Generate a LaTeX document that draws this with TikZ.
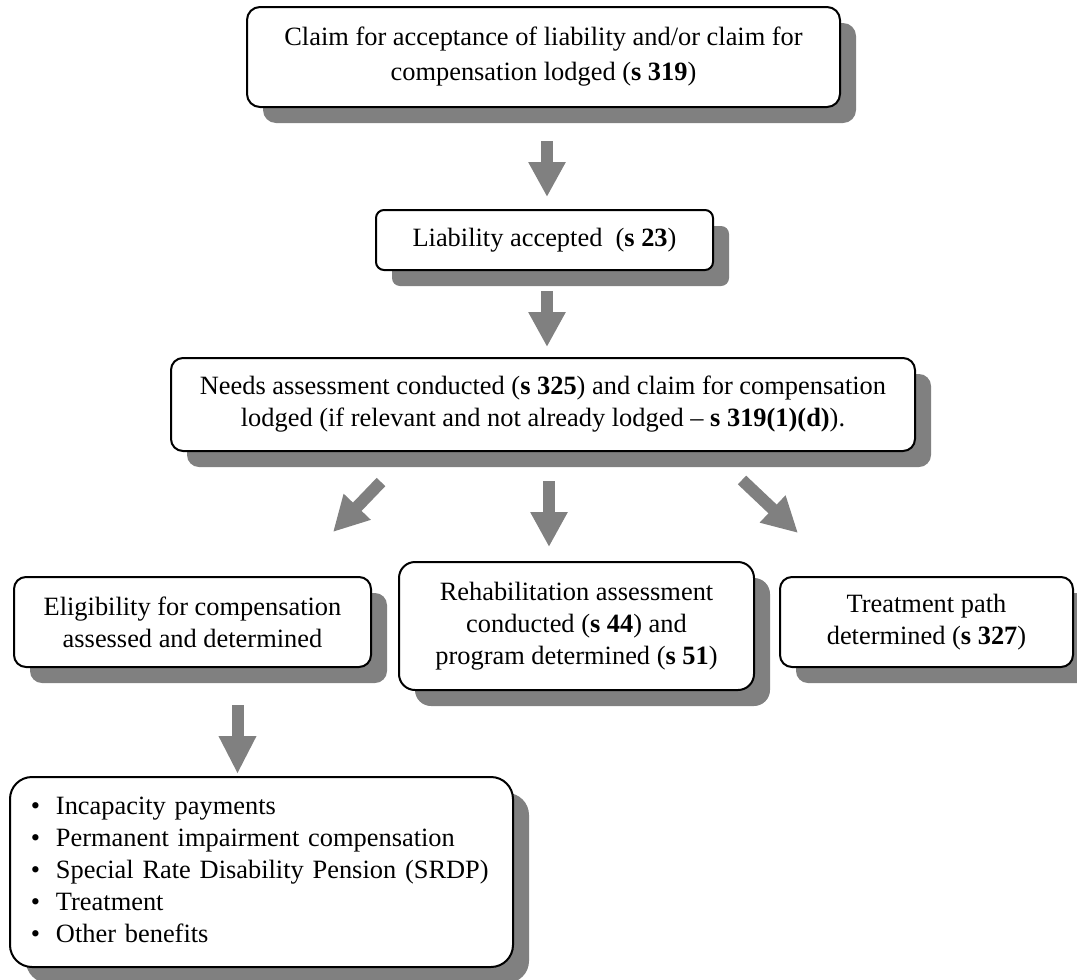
\documentclass[tikz,border=0pt]{standalone}
\usepackage{fontspec}
\setmainfont{Liberation Serif}
\usetikzlibrary{arrows.meta,shadows}
\definecolor{shade}{HTML}{808080}
\newcommand{\bitem}{\makebox[12.5pt][l]{•}}
\tikzset{
  box/.style={draw=black, line width=1pt, fill=white, rounded corners=#1,
    align=center, inner sep=0pt, font=\fontsize{13.2}{16}\selectfont,
    drop shadow={shadow xshift=8pt, shadow yshift=-8pt, fill=shade, opacity=1}},
  flow/.style={draw=shade, line width=6pt,
    -{Triangle[width=17.5pt,length=#1]}},
  flow/.default=17.5pt
}
\begin{document}
\begin{tikzpicture}[x=0.5pt,y=-0.5pt]
\useasboundingbox (0,0) rectangle (1077,980);

% process boxes
\node[box=6.5pt, minimum width=296.5pt, minimum height=50pt, font=\fontsize{13.2}{17.5}\selectfont] (claim) at (543.5,57)
  {Claim for acceptance of liability and/or claim for\\compensation lodged (\textbf{s 319})};
\node[box=4pt, minimum width=168.5pt, minimum height=30pt] (liab) at (544.5,240)
  {Liability accepted\ \ (\textbf{s 23})};
\node[box=6pt, minimum width=372pt, minimum height=46.5pt] (needs) at (543,404.5)
  {Needs assessment conducted (\textbf{s 325}) and claim for compensation\\lodged (if relevant and not already lodged – \textbf{s 319(1)(d)}).};
\node[box=6pt, minimum width=178.5pt, minimum height=45pt] (elig) at (192.5,622)
  {Eligibility for compensation\\assessed and determined};
\node[box=8pt, minimum width=177.5pt, minimum height=64pt] (rehab) at (576.5,626)
  {Rehabilitation assessment\\conducted (\textbf{s 44}) and\\program determined (\textbf{s 51})};
\node[box=6pt, minimum width=146.5pt, minimum height=45pt] (treat) at (926.5,622)
  {Treatment path\\determined (\textbf{s 327})};
\node[box=11pt, text width=230.5pt, inner xsep=10.5pt, minimum height=95pt, align=left] (benefits) at (261.5,872)
  {\begin{tabular}{@{}l@{}}
   \bitem Incapacity payments\\
   \bitem Permanent impairment compensation\\
   \bitem Special Rate Disability Pension (SRDP)\\
   \bitem Treatment\\
   \bitem Other benefits
   \end{tabular}};

% arrow end points
\coordinate (a1s) at (547,141);  \coordinate (a1e) at (547,197);
\coordinate (a2s) at (547,291);  \coordinate (a2e) at (547,347);
\coordinate (aLs) at (381,482);  \coordinate (aLe) at (333,532);
\coordinate (aMs) at (549,481);  \coordinate (aMe) at (549,547);
\coordinate (aRs) at (742,480);  \coordinate (aRe) at (798,533);
\coordinate (a4s) at (237.5,705); \coordinate (a4e) at (237.5,774);

% block arrows
\draw[flow] (a1s) -- (a1e);
\draw[flow] (a2s) -- (a2e);
\draw[flow] (aLs) -- (aLe);
\draw[flow] (aMs) -- (aMe);
\draw[flow] (aRs) -- (aRe);
\draw[flow=19pt] (a4s) -- (a4e);
\end{tikzpicture}
\end{document}
